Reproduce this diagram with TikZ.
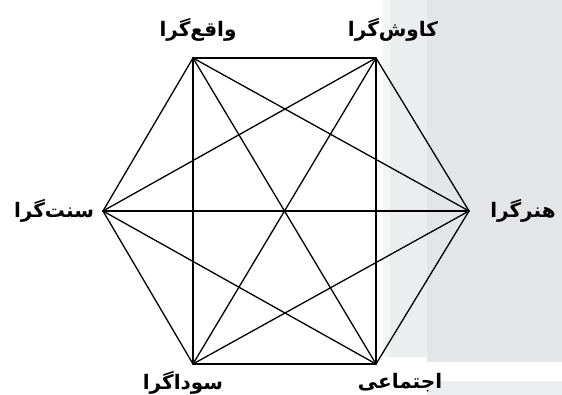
\documentclass[tikz,border=0pt]{standalone}
\usepackage{fontspec}
\TeXXeTstate=1
\newfontfamily\arabicfont[Script=Arabic]{DejaVu Sans}
\definecolor{stripA}{HTML}{F3F4F4}
\definecolor{stripB}{HTML}{ECEDEE}
\definecolor{panel}{HTML}{E3E5E6}
\definecolor{band}{HTML}{EDEEEF}
\begin{document}
\begin{tikzpicture}[x=1pt,y=-1pt,
  edge/.style={line width=1.3pt, line join=round, line cap=round},
  lbl/.style={font=\arabicfont\bfseries\fontsize{20}{24}\selectfont, inner sep=0pt, anchor=center}]
\useasboundingbox (0,0) rectangle (562,395);
\fill[white] (0,0) rectangle (562,395);
\fill[stripA] (383,0) rectangle (390,357);
\fill[stripB] (390,0) rectangle (427,357);
\fill[panel] (427,0) rectangle (562,362);
\fill[band] (427,381) rectangle (562,395);
% vertices
\coordinate (tl) at (193,58);
\coordinate (tr) at (376,58);
\coordinate (r)  at (469,211);
\coordinate (br) at (376,364);
\coordinate (bl) at (193,364);
\coordinate (l)  at (103,211);
% edges (complete graph)
\foreach \a/\b in {tl/tr, tr/r, r/br, br/bl, bl/l, l/tl,
                   tl/r, tl/br, tl/bl, tr/br, tr/bl, tr/l,
                   r/bl, r/l, br/l}
  \draw[edge] (\a) -- (\b);
% labels
\node[lbl] (ltl) at (198,30) {\beginR واقع‌گرا\endR};
\node[lbl] (ltr) at (393,30) {\beginR کاوش‌گرا\endR};
\node[lbl] (lr)  at (523,211) {\beginR هنر‌گرا\endR};
\node[lbl] (lbr) at (400,383) {\beginR اجتماعی\endR};
\node[lbl] (lbl) at (183,383) {\beginR سوداگرا\endR};
\node[lbl] (ll)  at (54,211) {\beginR سنت‌گرا\endR};
\end{tikzpicture}
\end{document}
